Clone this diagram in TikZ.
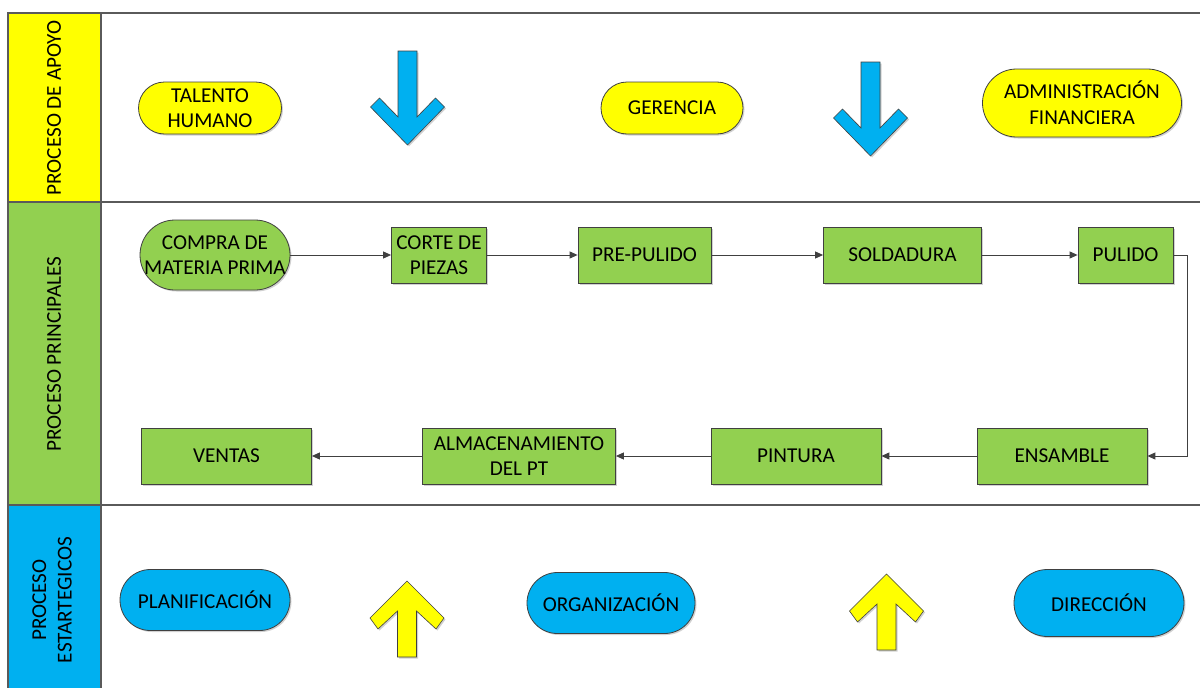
\documentclass[tikz,border=0pt]{standalone}
\usepackage{fontspec}
\setmainfont{Carlito}
\usetikzlibrary{arrows.meta,shadows}
\definecolor{ylw}{HTML}{FFFF00}
\definecolor{blu}{HTML}{00B0F0}
\definecolor{grn}{HTML}{92D050}
\definecolor{edge}{HTML}{404040}
\definecolor{lane}{HTML}{5A5A5A}
\begin{document}
\begin{tikzpicture}[x=1pt,y=-1pt,
  every node/.style={font=\fontsize{21.2}{25.6}\selectfont, text=black, align=center, inner sep=0pt},
  shd/.style={drop shadow={shadow xshift=1.5pt,shadow yshift=-1.5pt,fill=black,opacity=0.18}},
  stad/.style={draw=edge, line width=0.8pt, shd, minimum height=#1, rounded corners=#1/2},
  box/.style={draw=edge, line width=0.8pt, fill=grn, shd, minimum height=56pt},
  flow/.style={draw=edge, line width=0.9pt, -{Triangle[length=8pt,width=7pt]}},
  lanecol/.style={draw=lane, line width=1.2pt},
  arrowshape/.style={draw=edge, line width=0.6pt, shd}
]
\useasboundingbox (0,0) rectangle (1200,688);
\fill[white] (0,0) rectangle (1200,688);

% lane column
\fill[ylw] (8,13) rectangle (101,202);
\fill[grn] (8,202) rectangle (101,505);
\fill[blu] (8,505) rectangle (101,690);
\draw[lanecol] (8,690) -- (8,13) -- (1200,13);
\draw[lanecol] (8,202) -- (1200,202);
\draw[lanecol] (8,505) -- (1200,505);
\draw[lanecol] (101,13) -- (101,690);

\node[rotate=90] (l1) at (54,108) {PROCESO DE APOYO};
\node[rotate=90] (l2) at (54,354) {PROCESO PRINCIPALES};
\node[rotate=90] (l3) at (52,600) {PROCESO\\ESTARTEGICOS};

% support lane
\node[stad=52pt, fill=ylw, minimum width=143pt] (th) at (210,108) {TALENTO\\HUMANO};
\node[stad=52pt, fill=ylw, minimum width=142pt] (ge) at (672,108) {GERENCIA};
\node[stad=68pt, fill=ylw, minimum width=199pt] (af) at (1082,103) {ADMINISTRACIÓN\\FINANCIERA};

\draw[arrowshape, fill=blu, shift={(407.5,51)}]
  (-9.5,0) -- (9.5,0) -- (9.5,66) -- (28,47) -- (37,56) -- (0,94) -- (-37,56) -- (-28,47) -- (-9.5,66) -- cycle;
\draw[arrowshape, fill=blu, shift={(870.5,62)}]
  (-9.5,0) -- (9.5,0) -- (9.5,66) -- (28,47) -- (37,56) -- (0,94) -- (-37,56) -- (-28,47) -- (-9.5,66) -- cycle;

% main lane
\node[stad=70pt, fill=grn, minimum width=150pt] (cm) at (215,255) {COMPRA DE\\MATERIA PRIMA};
\node[box, minimum width=95pt] (cp) at (439,255) {CORTE DE\\PIEZAS};
\node[box, minimum width=133pt] (pp) at (644.5,255) {PRE-PULIDO};
\node[box, minimum width=158pt] (so) at (902.5,255) {SOLDADURA};
\node[box, minimum width=95pt] (pu) at (1125.5,255) {PULIDO};
\node[box, minimum width=170pt] (en) at (1062,456) {ENSAMBLE};
\node[box, minimum width=170pt] (pi) at (796,456) {PINTURA};
\node[box, minimum width=193pt] (al) at (519,456) {ALMACENAMIENTO\\DEL PT};
\node[box, minimum width=170pt] (ve) at (226.5,456) {VENTAS};

\coordinate (turn) at (1187,255);
\draw[flow] (cm) -- (cp);
\draw[flow] (cp) -- (pp);
\draw[flow] (pp) -- (so);
\draw[flow] (so) -- (pu);
\draw[flow] (pu.east) -- (turn) |- (en.east);
\draw[flow] (en) -- (pi);
\draw[flow] (pi) -- (al);
\draw[flow] (al) -- (ve);

% strategic lane
\node[stad=61pt, fill=blu, minimum width=170pt] (pl) at (205,600) {PLANIFICACIÓN};
\node[stad=61pt, fill=blu, minimum width=168pt] (or) at (611,603) {ORGANIZACIÓN};
\node[stad=67pt, fill=blu, minimum width=170pt] (di) at (1099,603) {DIRECCIÓN};

\draw[arrowshape, fill=ylw, shift={(407,581)}]
  (0,0) -- (37,37) -- (29,48) -- (9.5,30) -- (9.5,76) -- (-9.5,76) -- (-9.5,30) -- (-29,48) -- (-37,37) -- cycle;
\draw[arrowshape, fill=ylw, shift={(886.5,574)}]
  (0,0) -- (37,37) -- (29,48) -- (9.5,30) -- (9.5,76) -- (-9.5,76) -- (-9.5,30) -- (-29,48) -- (-37,37) -- cycle;
\end{tikzpicture}
\end{document}
